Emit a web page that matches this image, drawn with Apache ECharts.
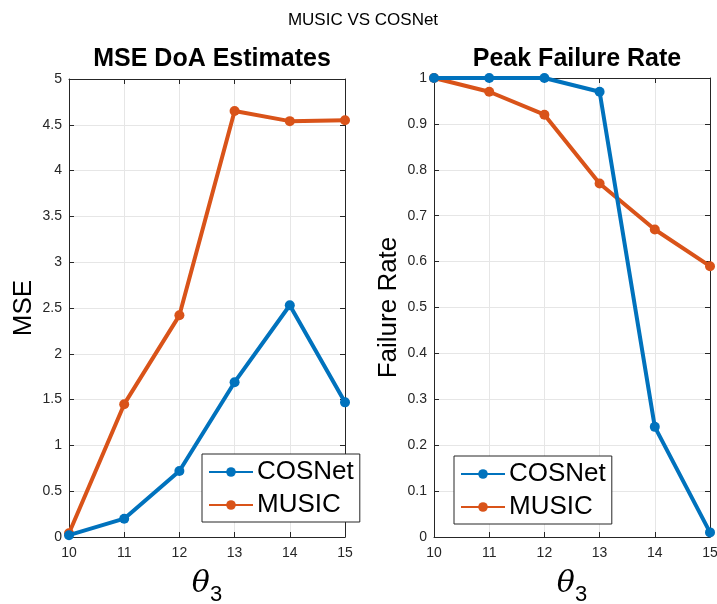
<!DOCTYPE html>
<html><head><meta charset="utf-8">
<script src="https://cdn.jsdelivr.net/npm/echarts@6/dist/echarts.min.js"></script>
<style>html,body{margin:0;padding:0;background:#fff}#c{width:717px;height:604px}</style>
</head><body><div id="c"></div>
<script>
const thetas = ['10','11','12','13','14','15'];
const mseCOSNet = [0.02, 0.2, 0.72, 1.69, 2.53, 1.47];
const mseMUSIC = [0.04, 1.45, 2.42, 4.65, 4.54, 4.55];
const failCOSNet = [1, 1, 1, 0.97, 0.24, 0.01];
const failMUSIC = [1, 0.97, 0.92, 0.77, 0.67, 0.59];
const xTicks = [10, 11, 12, 13, 14, 15];

const BLUE = '#0072BD', ORANGE = '#D95319';
const FONT = 'Liberation Sans, Arial, Helvetica, sans-serif';
const chart = echarts.init(document.getElementById('c'));

function pairs(vals){ return vals.map((v,i)=>[xTicks[i], v]); }

const grids = [
  {left: 69, right: 372, top: 79, bottom: 67, outerBoundsMode: 'none', containLabel: false},
  {left: 434, right: 7, top: 78, bottom: 67, outerBoundsMode: 'none', containLabel: false}
];
function xAx(gi, show){
  return {
    type: 'value', gridIndex: gi, min: 10, max: 15, interval: 1,
    position: show ? 'bottom' : 'top',
    name: show ? '{t|θ}{s|3}' : '',
    nameLocation: 'middle', nameGap: 25,
    nameTextStyle: { rich: {
      t: {fontFamily: 'DejaVu Serif, serif', fontStyle: 'italic', fontSize: 30, color: '#000'},
      s: {fontFamily: FONT, fontSize: 22, color: '#000', padding: [22,0,0,0]}
    }},
    axisLine: {show: true, onZero: false, lineStyle: {color: '#262626', width: 1}},
    axisTick: {show: true, inside: true, length: 5, lineStyle: {color: '#262626'}},
    axisLabel: {show: show, color: '#262626', fontSize: 14, fontFamily: FONT, margin: 9},
    splitLine: {show: show, lineStyle: {color: '#e6e6e6', width: 1}}
  };
}
function yAx(gi, show, max, interval, name){
  return {
    type: 'value', gridIndex: gi, min: 0, max: max, interval: interval,
    position: show ? 'left' : 'right',
    name: show ? name : '', nameLocation: 'middle', nameGap: 32,
    nameTextStyle: {fontSize: 26, color: '#000', fontFamily: FONT},
    axisLine: {show: true, onZero: false, lineStyle: {color: '#262626', width: 1}},
    axisTick: {show: true, inside: true, length: 5, lineStyle: {color: '#262626'}},
    axisLabel: {show: show, color: '#262626', fontSize: 14, fontFamily: FONT, margin: 7,
      formatter: v => String(Math.round(v*1000)/1000)},
    splitLine: {show: show, lineStyle: {color: '#e6e6e6', width: 1}}
  };
}
function ser(name, data, color, xi, yi){
  return {
    name: name, type: 'line', data: pairs(data), xAxisIndex: xi, yAxisIndex: yi,
    symbol: 'circle', symbolSize: 10, showSymbol: true,
    lineStyle: {color: color, width: 4}, itemStyle: {color: color},
    z: name === 'COSNet' ? 3 : 2, animation: false
  };
}
const legendBase = {
  orient: 'vertical', itemWidth: 44, itemHeight: 12, itemGap: 7,
  padding: [5, 6, 4, 6], borderColor: '#262626', borderWidth: 1,
  backgroundColor: '#fff',
  textStyle: {fontSize: 26, color: '#000', fontFamily: FONT, padding: [0,0,0,-1]},
  data: ['COSNet', 'MUSIC'], selectedMode: false
};
chart.setOption({
  animation: false,
  title: [
    {text: 'MUSIC VS COSNet', left: 358, top: 7, textAlign: 'center',
      textStyle: {fontSize: 17, fontWeight: 'normal', color: '#000', fontFamily: FONT}},
    {text: 'MSE DoA Estimates', left: 207, top: 42, textAlign: 'center',
      textStyle: {fontSize: 25, fontWeight: 'bold', color: '#000', fontFamily: FONT}},
    {text: 'Peak Failure Rate', left: 572, top: 42, textAlign: 'center',
      textStyle: {fontSize: 25, fontWeight: 'bold', color: '#000', fontFamily: FONT}}
  ],
  grid: grids,
  xAxis: [xAx(0, true), xAx(1, true), xAx(0, false), xAx(1, false)],
  yAxis: [yAx(0, true, 5, 0.5, 'MSE'), yAx(1, true, 1, 0.1, 'Failure Rate'),
          yAx(0, false, 5, 0.5, ''), yAx(1, false, 1, 0.1, '')],
  legend: [
    Object.assign({}, legendBase, {left: 202, top: 454}),
    Object.assign({}, legendBase, {left: 454, top: 456})
  ],
  series: [
    ser('COSNet', mseCOSNet, BLUE, 0, 0),
    ser('MUSIC', mseMUSIC, ORANGE, 0, 0),
    ser('COSNet', failCOSNet, BLUE, 1, 1),
    ser('MUSIC', failMUSIC, ORANGE, 1, 1)
  ]
});
</script></body></html>
